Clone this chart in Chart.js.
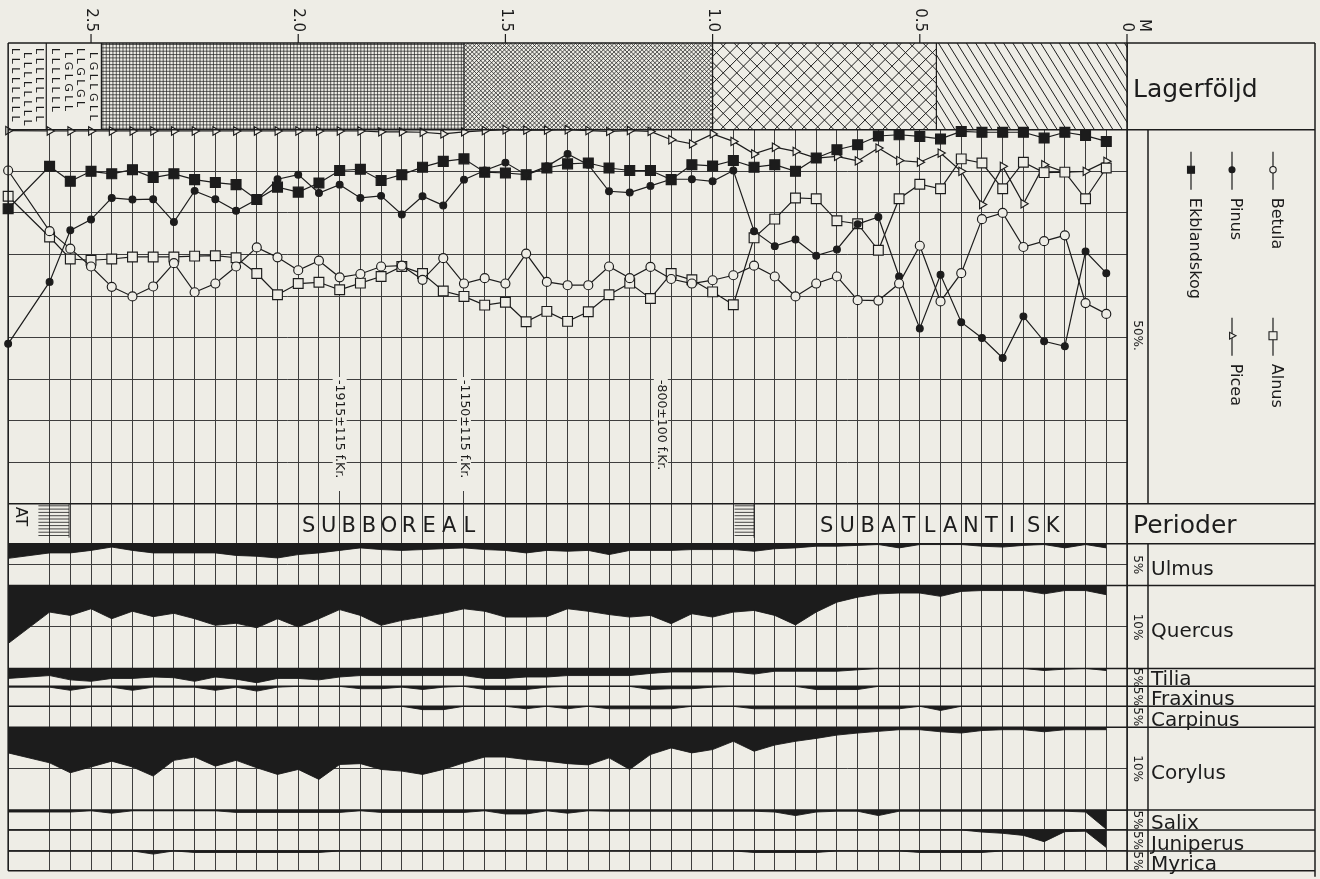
<!DOCTYPE html>
<html lang="sv">
<head>
<meta charset="utf-8">
<title>Pollendiagram</title>
<script src="https://cdn.jsdelivr.net/npm/chart.js@4/dist/chart.umd.min.js"></script>
<style>
  html, body { margin:0; padding:0; background:#eeede6; }
  #c { display:block; }
</style>
</head>
<body>
<canvas id="c" width="1320" height="879"></canvas>
<script>
// ---------------- DATA ----------------
const depths = [2.70,2.60,2.55,2.50,2.45,2.40,2.35,2.30,2.25,2.20,2.15,2.10,2.05,2.00,1.95,1.90,1.85,1.80,1.75,1.70,1.65,1.60,1.55,1.50,1.45,1.40,1.35,1.30,1.25,1.20,1.15,1.10,1.05,1.00,0.95,0.90,0.85,0.80,0.75,0.70,0.65,0.60,0.55,0.50,0.45,0.40,0.35,0.30,0.25,0.20,0.15,0.10,0.05];

const betula = [9.8,24.4,28.6,32.9,37.8,40.1,37.7,32.1,39.1,37.0, 32.9,28.3,30.7,33.8,31.5,35.5,34.7,32.9,32.7,36.1, 30.9,37.0,35.7,37.0,29.8,36.6,37.4,37.4,32.9,35.7, 33.0,35.9,37.0,36.2,35.0,32.7,35.3,40.1,37.0,35.3, 41.0,41.1,37.0,27.9,41.3,34.5,21.5,20.0,28.2,26.8, 25.4,41.7,44.3];
const pinus = [51.5,36.6,24.2,21.6,16.4,16.8,16.7,22.2,14.7,16.7, 19.5,16.8,11.9,10.8,15.2,13.2,16.4,15.9,20.4,16.0, 18.2,12.0,9.8,7.9,10.8,8.8,5.8,8.4,14.8,15.1, 13.5,11.9,11.9,12.4,9.8,24.4,28.0,26.4,30.3,28.8, 22.7,21.0,35.3,47.8,34.9,46.3,50.1,54.9,44.9,50.9, 52.1,29.3,34.5];
const ekblandskog = [19.0,8.8,12.4,10.0,10.6,9.6,11.5,10.6,12.0,12.7, 13.2,16.8,13.8,15.0,12.8,9.8,9.5,12.2,10.8,9.0, 7.6,7.0,10.2,10.4,10.8,9.2,8.2,8.0,9.2,9.8, 9.8,12.0,8.4,8.7,7.4,9.0,8.4,10.0,6.8,4.8, 3.6,1.5,1.2,1.6,2.2,0.4,0.6,0.6,0.6,2.0, 0.6,1.4,2.8];
const alnus = [16.0,25.8,31.1,31.4,31.1,30.6,30.6,30.6,30.4,30.3, 30.8,34.6,39.7,37.0,36.7,38.5,36.9,35.3,32.9,34.6, 38.8,40.1,42.2,41.5,46.2,43.7,46.1,43.8,39.7,36.9, 40.6,34.6,36.1,39.0,42.1,26.0,21.5,16.4,16.6,21.9, 22.6,29.0,16.6,13.1,14.2,7.0,8.0,14.2,7.8,10.3, 10.2,16.6,9.2];
const picea = [0.2,0.3,0.3,0.3,0.3,0.3,0.3,0.3,0.3,0.3, 0.3,0.3,0.3,0.3,0.3,0.3,0.3,0.5,0.5,0.6, 1.0,0.5,0.2,0.0,0.1,0.1,0.0,0.2,0.4,0.2, 0.4,2.4,3.4,1.0,2.8,5.8,4.2,5.2,6.8,6.4, 7.5,4.4,7.4,7.8,5.6,10.0,18.0,8.8,17.8,8.4, 10.2,10.0,7.6];

const ulmus = [3.5,2.2,2.2,1.6,0.8,1.6,2.2,2.2,2.2,2.2, 2.8,3.0,3.4,2.6,2.2,1.6,1.0,1.4,1.6,1.4, 1.2,1.0,1.4,1.6,2.2,1.6,1.8,1.6,2.6,1.6, 1.6,1.6,1.4,1.4,1.4,1.8,1.2,1.0,0.6,0.6, 0.4,0.2,1.0,0.2,0.2,0.2,0.6,0.8,0.4,0.2, 1.0,0.2,1.0];
const quercus = [14.0,6.4,7.2,5.6,8.0,6.2,7.5,6.7,8.0,9.6, 9.1,10.2,8.0,10.0,8.0,5.8,7.2,9.6,8.4,7.6, 6.7,5.6,6.2,7.6,7.6,7.5,5.6,6.2,7.0,7.6, 7.2,9.2,6.8,7.6,6.4,6.0,7.2,9.5,6.4,4.0, 2.8,2.0,1.8,1.8,2.6,1.4,1.2,1.2,1.2,2.0, 1.2,1.2,2.2];
const tilia = [2.8,2.0,3.2,3.6,2.8,2.8,2.4,2.6,3.6,2.4, 3.0,4.0,2.8,2.8,3.2,2.4,2.0,2.0,2.0,2.0, 2.0,2.0,2.8,2.8,2.4,2.4,2.0,2.0,2.0,2.0, 1.4,1.0,1.0,1.0,1.0,1.6,0.8,0.8,0.8,0.8, 0.4,0,0,0,0,0,0,0,0,0.6, 0.2,0,0.6];
const fraxinus = [0.2,0.2,1.0,0.2,0.2,1.0,0.2,0.2,0.2,1.0, 0.2,1.2,0.2,0,0,0,0.6,0.6,0.2,0.8, 0.2,0,0.8,0.8,0.8,0.2,0,0,0,0, 0.8,0.6,0.6,0.2,0,0,0,0,0.8,0.8, 0.8,0,0,0,0,0,0,0,0,0, 0,0,0];
const carpinus = [0,0,0,0,0,0,0,0,0,0, 0,0,0,0,0,0,0,0,0,0.8, 0.8,0,0,0,0.6,0,0.6,0,0.6,0.6, 0.6,0.6,0,0,0,0.6,0.6,0.6,0.6,0.6, 0.6,0.6,0.6,0,1.0,0,0,0,0,0, 0,0,0];
const corylus = [6.2,8.6,11.0,9.6,8.2,9.6,11.8,8.0,7.2,9.4, 8.0,9.8,11.4,10.2,12.6,9.0,8.8,10.2,10.6,11.4, 10.2,8.6,7.2,7.2,7.8,8.2,8.8,9.1,7.4,10.2, 6.6,5.0,6.2,5.4,3.4,5.8,4.3,3.4,2.7,1.9, 1.4,1.0,0.6,0.6,1.1,1.4,0.8,0.6,0.6,1.1, 0.6,0.6,0.6];
const salix = [0.5,0.5,0.5,0.2,0.8,0.2,0.2,0.2,0.2,0.2, 0.6,0.6,0.6,0.6,0.6,0.6,0.2,0.6,0.6,0.6, 0.6,0.6,0.2,1.0,1.0,0.2,0.8,0.2,0.3,0.3, 0.3,0.3,0.3,0.3,0.3,0.3,0.5,1.4,0.5,0.3, 0.3,1.4,0.3,0.3,0.3,0.3,0.3,0.3,0.3,0.3, 0.3,0.5,4.8];
const juniperus = [0,0,0,0,0,0,0,0,0,0, 0,0,0,0,0,0,0,0,0,0, 0,0,0,0,0,0,0,0,0,0, 0,0,0,0,0,0,0,0,0,0, 0,0,0,0,0,0,0.5,0.8,1.3,2.8, 0.4,0.3,4.2];
const myrica = [0,0,0,0,0,0,0.8,0,0.4,0.4, 0.4,0.4,0.4,0.4,0.4,0,0,0,0,0, 0,0,0,0,0,0,0,0,0,0, 0,0,0,0,0,0.4,0.4,0.4,0.4,0, 0,0,0,0.4,0.4,0.4,0.4,0,0,0, 0,0,0];

const depthTickValues = [2.5, 2.0, 1.5, 1.0, 0.5, 0];
const depthTickLabels = ['2.5', '2.0', '1.5', '1.0', '0.5', '0'];
const depthUnit = 'M';
const mainTaxa = ['Betula', 'Pinus', 'Ekblandskog', 'Alnus', 'Picea'];
const lowerTaxa = ['Ulmus','Quercus','Tilia','Fraxinus','Carpinus','Corylus','Salix','Juniperus','Myrica'];
const lowerPctLabels = ['5%','10%','5%','5%','5%','10%','5%','5%','5%'];
const lowerMax = [10, 20, 5, 5, 5, 20, 5, 5, 5];
const layerBounds = [2.70, 2.608, 2.475, 1.60, 1.00, 0.46, 0];
const layerKinds = ['L', 'LG', 'grid', 'fineX', 'coarseX', 'diag'];
const periodNames = ['AT', 'SUBBOREAL', 'SUBATLANTISK'];
const periodHatch = [[2.627, 2.553], [0.947, 0.90]];
const c14Labels = ['-1915±115 f.Kr.', '-1150±115 f.Kr.', '-800±100 f.Kr.'];
const c14Depths = [1.90, 1.60, 1.125];

// ---------------- STYLE ----------------
const PAPER = '#eeede6';
const INK = '#1c1c1c';
const GRIDC = '#3e3e3e';
const FONT = '"DejaVu Sans", "Noto Sans", sans-serif';
Chart.defaults.font.family = FONT;

const rowIds = ['yLager','yMain','yPer','yUlmus','yQuercus','yTilia','yFraxinus','yCarpinus','yCorylus','ySalix','yJuniperus','yMyrica'];
const rowHeights = [87, 375, 40, 42, 83, 18, 20, 21, 83, 20, 21, 20];

const gridDepths = depths.concat([0]);

const scales = {
  x: {
    type: 'linear', position: 'bottom', min: 0, max: 2.70, reverse: true,
    afterBuildTicks: (axis) => { axis.ticks = gridDepths.map(v => ({ value: v })); },
    ticks: { display: false },
    grid: { drawTicks: false, color: GRIDC, lineWidth: 1 },
    border: { display: false }
  }
};
rowIds.forEach((id, i) => {
  let max = 1, step = 1, gridOn = false;
  if (id === 'yMain') { max = 90; step = 10; gridOn = true; }
  const li = i - 3;
  if (li >= 0) { max = lowerMax[li]; step = max >= 10 ? (max === 10 ? 5 : 10) : 5; gridOn = true; }
  scales[id] = {
    type: 'linear', position: 'left', stack: 'rows', stackWeight: rowHeights[i], weight: 100 - i,
    min: 0, max: max, reverse: true,
    ticks: { display: false, stepSize: step },
    grid: { display: gridOn, drawTicks: false, color: GRIDC, lineWidth: 1 },
    border: { display: false }
  };
});

const toPts = (arr) => depths.map((d, i) => ({ x: d, y: arr[i] }));

const datasets = [];
const mainSeries = [betula, pinus, ekblandskog, alnus, picea];
const mainStyle = [
  { pointStyle: 'circle', r: 4.5, filled: false, rot: 0 },
  { pointStyle: 'circle', r: 3.4, filled: true, rot: 0 },
  { pointStyle: 'rect', r: 7.0, filled: true, rot: 0 },
  { pointStyle: 'rect', r: 6.9, filled: false, rot: 0 },
  { pointStyle: 'triangle', r: 4.8, filled: false, rot: 90 }
];
mainTaxa.forEach((name, i) => {
  const s = mainStyle[i];
  datasets.push({
    label: name, data: toPts(mainSeries[i]), yAxisID: 'yMain', xAxisID: 'x',
    borderColor: INK, borderWidth: 1.2, tension: 0, fill: false,
    pointStyle: s.pointStyle, pointRadius: s.r, pointRotation: s.rot,
    pointBackgroundColor: s.filled ? INK : PAPER, pointBorderColor: INK, pointBorderWidth: 1.15,
    clip: false
  });
});
const lowerSeries = [ulmus, quercus, tilia, fraxinus, carpinus, corylus, salix, juniperus, myrica];
lowerTaxa.forEach((name, i) => {
  datasets.push({
    label: name, data: toPts(lowerSeries[i]), yAxisID: rowIds[i + 3], xAxisID: 'x',
    borderColor: INK, backgroundColor: INK, borderWidth: 0.9, tension: 0,
    fill: 'origin', pointRadius: 0
  });
});

// ---------------- DRAW HELPERS ----------------
function rotText(ctx, text, x, y, align, font) {
  ctx.save();
  ctx.translate(x, y);
  ctx.rotate(Math.PI / 2);
  ctx.font = font;
  ctx.textAlign = align;
  ctx.textBaseline = 'middle';
  ctx.fillText(text, 0, 0);
  ctx.restore();
}
function line(ctx, x0, y0, x1, y1) { ctx.moveTo(x0, y0); ctx.lineTo(x1, y1); }

function drawMarker(ctx, st, x, y, r) {
  ctx.save();
  ctx.lineWidth = 1.1; ctx.strokeStyle = INK; ctx.fillStyle = st.filled ? INK : PAPER;
  ctx.beginPath();
  if (st.pointStyle === 'circle') ctx.arc(x, y, r, 0, Math.PI * 2);
  else if (st.pointStyle === 'rect') ctx.rect(x - r, y - r, 2 * r, 2 * r);
  else { ctx.moveTo(x + r, y); ctx.lineTo(x - r * 0.6, y - r * 0.85); ctx.lineTo(x - r * 0.6, y + r * 0.85); ctx.closePath(); }
  ctx.fill(); ctx.stroke();
  ctx.restore();
}

function drawLager(chart) {
  const ctx = chart.ctx, xs = chart.scales.x, ys = chart.scales.yLager;
  const top = ys.top, bot = ys.bottom, h = bot - top;
  for (let k = 0; k < layerKinds.length; k++) {
    const xa = xs.getPixelForValue(layerBounds[k]);
    const xb = xs.getPixelForValue(layerBounds[k + 1]);
    const kind = layerKinds[k];
    ctx.save();
    ctx.beginPath(); ctx.rect(xa, top, xb - xa, h); ctx.clip();
    ctx.fillStyle = PAPER; ctx.fillRect(xa, top, xb - xa, h);
    ctx.strokeStyle = INK; ctx.fillStyle = INK;
    if (kind === 'grid') {
      ctx.lineWidth = 0.7; ctx.beginPath();
      for (let x = xa + 1.5; x < xb; x += 3.35) line(ctx, x, top, x, bot);
      for (let y = top + 1.5; y < bot; y += 3.35) line(ctx, xa, y, xb, y);
      ctx.stroke();
    } else if (kind === 'fineX' || kind === 'coarseX') {
      const s = kind === 'fineX' ? 4.3 : 13.5;
      ctx.lineWidth = kind === 'fineX' ? 0.75 : 1.0;
      ctx.beginPath();
      for (let c = xa - h; c < xb + h; c += s) { line(ctx, c, top, c + h, bot); line(ctx, c + h, top, c, bot); }
      ctx.stroke();
    } else if (kind === 'diag') {
      const dx = h * 0.62;
      ctx.lineWidth = 1.0; ctx.beginPath();
      for (let c = xa - dx; c < xb + dx; c += 9.3) line(ctx, c, top, c + dx, bot);
      ctx.stroke();
    } else if (kind === 'L') {
      const cols = ['L L L L L L L L', 'L L L L L L L L', 'L L L L L L L L'];
      cols.forEach((s, j) => rotText(ctx, s, xa + 7 + j * 12, top + 5 + (j % 2) * 4, 'left', '11px ' + FONT));
    } else if (kind === 'LG') {
      const cols = ['L L L L L L L', 'L G L G L L', 'L L G L G L', 'L G L L G L L'];
      cols.forEach((s, j) => rotText(ctx, s, xa + 9 + j * 12.5, top + 5 + (j % 2) * 4, 'left', '11px ' + FONT));
    }
    ctx.restore();
  }
  ctx.save();
  ctx.strokeStyle = INK; ctx.lineWidth = 1.2; ctx.beginPath();
  for (let k = 1; k < layerBounds.length - 1; k++) {
    const x = xs.getPixelForValue(layerBounds[k]);
    line(ctx, x, top, x, bot);
  }
  ctx.stroke();
  ctx.restore();
}

function drawPeriod(chart) {
  const ctx = chart.ctx, xs = chart.scales.x, ys = chart.scales.yPer;
  ctx.save();
  ctx.strokeStyle = INK; ctx.lineWidth = 0.8;
  periodHatch.forEach(([d0, d1]) => {
    const xa = xs.getPixelForValue(d0), xb = xs.getPixelForValue(d1);
    ctx.beginPath();
    for (let y = ys.top + 2; y < ys.bottom - 5; y += 3.3) line(ctx, xa, y, xb, y);
    line(ctx, xb, ys.top, xb, ys.bottom - 6);
    ctx.stroke();
  });
  ctx.restore();
}

function drawDecor(chart) {
  const ctx = chart.ctx, xs = chart.scales.x, ca = chart.chartArea;
  const S = chart.scales;
  const R = 1315, C1 = ca.right, C2 = ca.right + 21;
  ctx.save();
  ctx.fillStyle = INK; ctx.strokeStyle = INK;

  // top depth axis
  ctx.lineWidth = 1.2; ctx.beginPath();
  depthTickValues.forEach(v => { const x = xs.getPixelForValue(v); line(ctx, x, ca.top - 9, x, ca.top); });
  ctx.stroke();
  depthTickValues.forEach((v, i) => rotText(ctx, depthTickLabels[i], xs.getPixelForValue(v), ca.top - 11, 'right', '15px ' + FONT));
  rotText(ctx, depthUnit, xs.getPixelForValue(0) + 17, ca.top - 11, 'right', '15px ' + FONT);

  // radiocarbon dates
  c14Labels.forEach((t, i) => {
    const x = xs.getPixelForValue(c14Depths[i]);
    ctx.fillStyle = PAPER; ctx.fillRect(x - 7, 377, 14, 114);
    ctx.fillStyle = INK;
    rotText(ctx, t, x, 380, 'left', '12.5px ' + FONT);
  });

  // periods text
  const yp = S.yPer;
  rotText(ctx, periodNames[0], ca.left + 12, yp.top + 3, 'left', '16px ' + FONT);
  ctx.font = '21px ' + FONT; ctx.textAlign = 'center'; ctx.textBaseline = 'alphabetic';
  const sb = xs.getPixelForValue(1.975);
  periodNames[1].split('').forEach((ch, i) => ctx.fillText(ch, sb + 20.1 * i, yp.bottom - 12));
  const sa = xs.getPixelForValue(0.725);
  const saOff = [0, 20.6, 41.2, 61.8, 82.4, 103, 123.6, 144.2, 164.8, 185.4, 207, 226];
  periodNames[2].split('').forEach((ch, i) => ctx.fillText(ch, sa + saOff[i], yp.bottom - 12));

  // frame
  ctx.lineWidth = 1.5; ctx.beginPath();
  line(ctx, ca.left, ca.top, R, ca.top);
  line(ctx, ca.left, ca.bottom, R, ca.bottom);
  line(ctx, ca.left, ca.top, ca.left, ca.bottom);
  line(ctx, C1, ca.top, C1, ca.bottom);
  line(ctx, R, ca.top, R, ca.bottom + 6);
  line(ctx, C2, S.yMain.top, C2, S.yMain.bottom);
  line(ctx, C2, S.yUlmus.top, C2, ca.bottom);
  rowIds.forEach(id => { const s = S[id]; line(ctx, ca.left, s.bottom, R, s.bottom); });
  ctx.stroke();

  // right column labels
  ctx.textAlign = 'left'; ctx.textBaseline = 'alphabetic';
  ctx.font = '25px ' + FONT;
  ctx.fillText('Lagerföljd', C1 + 6, S.yLager.bottom - 33);
  ctx.fillText('Perioder', C1 + 6, yp.bottom - 11);
  lowerTaxa.forEach((name, i) => {
    const s = S[rowIds[i + 3]];
    const big = (s.bottom - s.top) > 30;
    ctx.font = '20px ' + FONT; ctx.textAlign = 'left'; ctx.textBaseline = 'alphabetic';
    ctx.fillText(name, C2 + 3, big ? (s.top + s.bottom) / 2 + 10 : s.bottom - 1);
    rotText(ctx, lowerPctLabels[i], (C1 + C2) / 2, (s.top + s.bottom) / 2, 'center', '12px ' + FONT);
  });
  const ym = S.yMain;
  rotText(ctx, '50%.', (C1 + C2) / 2, ym.getPixelForValue(50) - 2, 'center', '12px ' + FONT);

  // legend
  const legendCols = [1273, 1232, 1191, 1273, 1232];
  const legendTop = [ym.top + 22, ym.top + 22, ym.top + 22, ym.top + 188, ym.top + 188];
  const legendR = [3.2, 3.0, 3.5, 4.0, 4.0];
  mainTaxa.forEach((name, i) => {
    const x = legendCols[i], y0 = legendTop[i];
    ctx.lineWidth = 1.2; ctx.beginPath(); line(ctx, x, y0, x, y0 + 38); ctx.stroke();
    drawMarker(ctx, mainStyle[i], x, y0 + 18, legendR[i]);
    ctx.fillStyle = INK;
    rotText(ctx, name, x + 3, y0 + 46, 'left', '16px ' + FONT);
  });
  ctx.restore();
}

const decor = {
  id: 'decor',
  beforeDraw(chart) {
    const ctx = chart.ctx;
    ctx.save(); ctx.fillStyle = PAPER; ctx.fillRect(0, 0, chart.width, chart.height); ctx.restore();
  },
  beforeDatasetsDraw(chart) { drawLager(chart); drawPeriod(chart); },
  afterDraw(chart) { drawDecor(chart); }
};

new Chart(document.getElementById('c'), {
  type: 'line',
  data: { datasets },
  options: {
    responsive: false, animation: false, devicePixelRatio: 1,
    layout: { padding: { left: 4, right: 193, top: 43, bottom: 6 } },
    plugins: { legend: { display: false }, tooltip: { enabled: false } },
    scales
  },
  plugins: [decor]
});
</script>
</body>
</html>
